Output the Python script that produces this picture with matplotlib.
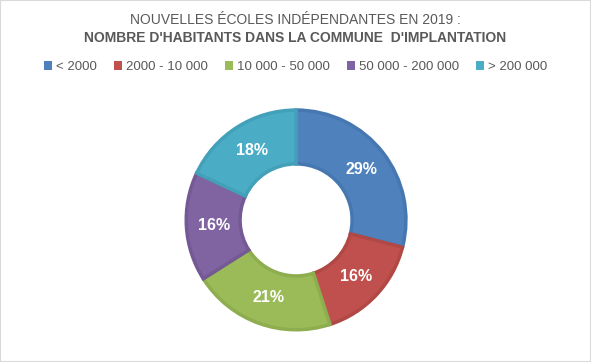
import numpy as np
import matplotlib.pyplot as plt
from matplotlib.patches import Rectangle

plt.rcParams['font.family'] = ['Liberation Sans', 'DejaVu Sans']

categories = ["< 2000", "2000 - 10 000", "10 000 - 50 000", "50 000 - 200 000", "> 200 000"]
shares = [29, 16, 21, 16, 18]
colors = ["#4F81BD", "#C0504D", "#9BBB59", "#8064A2", "#4BACC6"]
edges = ["#4677B0", "#B04845", "#8DAD4E", "#745995", "#43A0B9"]

fig = plt.figure(figsize=(5.91, 3.62), dpi=100)
fig.patches.append(Rectangle((0, 0), 1, 1, transform=fig.transFigure,
                             fill=False, edgecolor='#D9D9D9', linewidth=1.5))

fig.text(0.5, 0.945, "NOUVELLES ÉCOLES INDÉPENDANTES EN 2019 :",
         ha='center', va='center', fontsize=10, color='#595959')
fig.text(0.5, 0.895, "NOMBRE D'HABITANTS DANS LA COMMUNE  D'IMPLANTATION",
         ha='center', va='center', fontsize=10, color='#595959', fontweight='bold')

ax = fig.add_axes([0.313, 0.086, 0.376, 0.613])
wedges, _ = ax.pie(shares, colors=colors, startangle=90, counterclock=False,
                   radius=1, wedgeprops=dict(width=0.49, linewidth=2.5))
for w, ec in zip(wedges, edges):
    w.set_edgecolor(ec)
    w.set_joinstyle('miter')

total = sum(shares)
start = 90
for s in shares:
    ang = np.deg2rad(start - s / total * 360 / 2)
    ax.text(0.75 * np.cos(ang), 0.75 * np.sin(ang), f"{s}%", ha='center', va='center',
            color='white', fontsize=11.5, fontweight='bold')
    start -= s / total * 360
ax.set_xlim(-1.01, 1.01)
ax.set_ylim(-1.01, 1.01)
ax.set_aspect('equal')

handles = [Rectangle((0, 0), 1, 1, facecolor=c) for c in colors]
fig.legend(handles, categories, loc='center', bbox_to_anchor=(0.5, 0.815), ncol=5,
           frameon=False, fontsize=9.5, handlelength=0.6, handleheight=0.6,
           handletextpad=0.3, columnspacing=1.3, labelcolor='#595959')

fig.savefig("out.png", dpi=100)
